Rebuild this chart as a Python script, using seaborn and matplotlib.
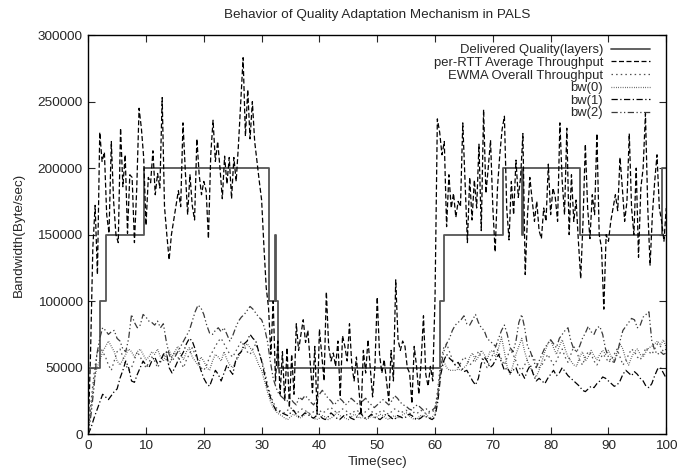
import numpy as np
import pandas as pd
import matplotlib
matplotlib.use("Agg")
import matplotlib.pyplot as plt
import seaborn as sns

# delivered quality: step changes (time, bandwidth level)
q_time = [0, 2.1, 3.0, 9.6, 31.2, 32.35, 32.5, 32.8, 60.8, 61.5, 71.7, 75.1, 75.3, 85.1, 99.3, 100]
q_level = [50000, 100000, 150000, 200000, 100000, 150000, 100000, 50000,
           100000, 150000, 200000, 150000, 200000, 150000, 200000, 200000]

# per-RTT average throughput (kB/s), one sample every 0.4 s
rtt_k = [
    0, 60, 140, 172, 120, 227, 205, 212, 165, 151, 220, 175, 150, 144, 230, 186, 210, 151, 195, 193, 144, 185, 245, 230, 208,
    157, 193, 189, 213, 180, 196, 185, 253, 171, 150, 131, 150, 161, 172, 183, 171, 234, 198, 165, 195, 172, 161, 222, 195, 180,
    190, 183, 147, 210, 236, 205, 220, 200, 177, 209, 188, 208, 177, 208, 190, 218, 250, 283, 224, 259, 222, 250, 220, 205, 190,
    176, 141, 110, 95, 60, 100, 40, 70, 30, 62, 25, 65, 20, 60, 30, 83, 63, 75, 86, 69, 78, 55, 31, 66, 15,
    79, 60, 40, 107, 66, 55, 61, 51, 70, 28, 74, 66, 55, 83, 52, 40, 58, 35, 15, 63, 46, 71, 50, 28, 51,
    103, 60, 46, 56, 40, 25, 63, 40, 116, 71, 63, 70, 66, 50, 46, 23, 66, 51, 30, 55, 89, 45, 36, 51, 40,
    103, 237, 227, 210, 220, 156, 195, 170, 181, 163, 175, 171, 234, 190, 144, 193, 161, 191, 170, 218, 153, 244, 181, 200, 221,
    170, 137, 185, 210, 229, 239, 170, 146, 190, 165, 206, 178, 193, 226, 120, 165, 193, 176, 160, 175, 153, 147, 170, 160, 203,
    165, 185, 178, 160, 234, 190, 165, 230, 150, 195, 160, 176, 145, 117, 160, 218, 170, 147, 180, 165, 226, 150, 140, 94, 150,
    145, 160, 170, 180, 168, 208, 185, 160, 175, 226, 170, 150, 200, 133, 185, 200, 241, 170, 127, 165, 190, 210, 170, 160, 145, 170,
]

# smoother series (kB/s), one sample every 0.5 s
ewma_k = [
    0, 25, 45, 60, 66, 62, 58, 52, 48, 55, 62, 64, 58, 52, 48, 50, 56, 62, 58, 54,
    50, 54, 58, 55, 50, 54, 60, 56, 52, 58, 62, 58, 54, 50, 56, 60, 65, 60, 55, 50,
    48, 52, 58, 62, 66, 70, 72, 68, 64, 60, 58, 62, 66, 70, 66, 62, 60, 64, 68, 62,
    56, 48, 38, 30, 24, 20, 18, 17, 16, 18, 20, 18, 16, 17, 19, 18, 16, 15, 17, 19,
    18, 16, 17, 19, 20, 18, 16, 17, 19, 18, 16, 15, 17, 18, 16, 15, 17, 19, 17, 16,
    15, 17, 18, 16, 15, 17, 19, 18, 16, 17, 18, 16, 15, 17, 16, 18, 17, 15, 16, 17,
    18, 35, 55, 65, 68, 62, 56, 52, 50, 54, 58, 56, 52, 54, 58, 62, 58, 54, 50, 55,
    60, 66, 62, 56, 52, 58, 64, 60, 55, 50, 48, 52, 56, 60, 58, 54, 50, 52, 56, 60,
    56, 52, 55, 60, 64, 58, 54, 60, 66, 62, 56, 52, 58, 62, 60, 55, 52, 56, 60, 58,
    54, 56, 60, 64, 58, 52, 55, 60, 64, 62, 58, 56, 60, 65, 62, 60, 64, 68, 66, 62, 64,
]
bw0_k = [
    0, 20, 40, 50, 55, 62, 66, 70, 66, 62, 55, 52, 56, 60, 64, 62, 58, 62, 64, 60,
    56, 58, 62, 60, 64, 58, 55, 60, 63, 58, 62, 66, 60, 56, 62, 65, 58, 55, 52, 58,
    55, 50, 48, 55, 60, 58, 55, 62, 56, 52, 50, 55, 58, 63, 66, 68, 65, 62, 58, 52,
    48, 40, 32, 25, 20, 17, 15, 14, 12, 11, 13, 15, 14, 12, 13, 15, 17, 14, 12, 11,
    12, 14, 13, 11, 12, 14, 16, 14, 13, 12, 11, 13, 15, 14, 12, 13, 11, 12, 14, 12,
    13, 15, 14, 12, 11, 13, 14, 12, 13, 15, 16, 14, 12, 11, 12, 14, 13, 15, 12, 13,
    15, 30, 50, 55, 50, 48, 48, 48, 49, 48, 50, 52, 58, 61, 55, 58, 63, 60, 56, 62,
    63, 58, 65, 73, 62, 50, 45, 52, 60, 66, 72, 62, 55, 50, 45, 43, 48, 55, 62, 68,
    71, 65, 60, 66, 71, 64, 58, 55, 52, 51, 58, 62, 55, 58, 63, 59, 56, 60, 63, 60,
    63, 58, 55, 62, 68, 64, 56, 52, 58, 62, 64, 60, 58, 62, 65, 66, 68, 70, 67, 71, 65,
]
bw1_k = [
    0, 5, 12, 18, 24, 30, 28, 26, 29, 32, 34, 42, 48, 55, 50, 40, 39, 45, 50, 55,
    52, 50, 55, 58, 53, 55, 60, 62, 50, 46, 50, 55, 58, 62, 68, 72, 70, 64, 55, 48,
    42, 38, 36, 42, 48, 45, 40, 46, 52, 48, 45, 55, 60, 62, 68, 70, 75, 72, 70, 62,
    55, 45, 35, 28, 22, 18, 17, 16, 15, 14, 16, 18, 15, 13, 14, 16, 15, 13, 12, 14,
    15, 12, 11, 13, 16, 14, 12, 11, 13, 15, 14, 12, 11, 13, 16, 14, 12, 13, 15, 13,
    12, 11, 13, 15, 14, 12, 11, 14, 13, 12, 13, 15, 14, 12, 11, 12, 14, 13, 12, 11,
    13, 25, 45, 55, 60, 57, 55, 52, 54, 50, 47, 48, 44, 40, 37, 42, 53, 58, 55, 50,
    52, 56, 60, 54, 48, 50, 46, 48, 50, 44, 46, 42, 48, 52, 45, 40, 42, 40, 38, 42,
    45, 48, 44, 46, 50, 47, 44, 42, 40, 38, 36, 33, 32, 34, 36, 35, 38, 40, 43, 42,
    40, 38, 36, 37, 40, 45, 48, 46, 44, 47, 45, 42, 40, 36, 35, 38, 44, 49, 50, 46, 42,
]
bw2_k = [
    0, 15, 35, 60, 72, 80, 78, 75, 77, 78, 72, 70, 64, 62, 72, 90, 84, 80, 82, 90,
    88, 85, 84, 82, 85, 80, 83, 70, 60, 55, 58, 62, 66, 70, 74, 78, 85, 92, 97, 95,
    90, 82, 76, 75, 78, 80, 77, 80, 75, 70, 74, 80, 85, 88, 90, 93, 96, 94, 91, 88,
    86, 80, 70, 55, 42, 35, 30, 28, 26, 25, 27, 24, 22, 28, 26, 29, 27, 24, 22, 26,
    30, 33, 30, 27, 25, 22, 24, 27, 25, 22, 24, 27, 25, 23, 22, 25, 27, 24, 22, 20,
    22, 24, 26, 24, 22, 25, 29, 27, 24, 22, 21, 19, 18, 21, 22, 20, 18, 19, 17, 18,
    20, 30, 50, 62, 68, 72, 78, 82, 84, 86, 89, 83, 82, 86, 90, 84, 80, 78, 72, 70,
    68, 66, 72, 78, 82, 75, 65, 62, 70, 84, 90, 80, 66, 62, 56, 50, 55, 60, 65, 68,
    71, 68, 65, 72, 75, 78, 80, 70, 64, 62, 66, 72, 76, 81, 77, 75, 80, 81, 75, 64,
    58, 55, 54, 60, 70, 78, 81, 84, 87, 86, 80, 82, 88, 90, 92, 70, 63, 60, 62, 60, 61,
]

t_rtt = np.linspace(0, 100, len(rtt_k))
t_bw = np.linspace(0, 100, len(bw0_k))
df_rtt = pd.DataFrame({"Time": t_rtt, "bw": np.array(rtt_k) * 1000})
df_q = pd.DataFrame({"Time": q_time, "bw": q_level})

sns.set_style("ticks")
plt.rcParams['font.family'] = ['Liberation Sans', 'DejaVu Sans']
plt.rcParams['font.size'] = 10

fig, ax = plt.subplots(figsize=(6.89, 4.74), dpi=100)
fig.subplots_adjust(left=0.128, right=0.967, top=0.926, bottom=0.084)

sns.lineplot(data=df_q, x="Time", y="bw", ax=ax, color="#555555", lw=1.3,
             drawstyle="steps-post", label="Delivered Quality(layers)")
sns.lineplot(data=df_rtt, x="Time", y="bw", ax=ax, color="black", lw=0.9,
             linestyle=(0, (4, 2)), label="per-RTT Average Throughput")

styles = [
    ("EWMA Overall Throughput", ewma_k, "#505050", (0, (1.2, 2.5))),
    ("bw(0)", bw0_k, "#404040", (0, (0.6, 1.2))),
    ("bw(1)", bw1_k, "black", (0, (5, 2, 1, 2))),
    ("bw(2)", bw2_k, "#3a3a3a", (0, (5, 2, 1, 2, 1, 2))),
]
for name, vals, col, ls in styles:
    d = pd.DataFrame({"Time": t_bw, "bw": np.array(vals) * 1000})
    sns.lineplot(data=d, x="Time", y="bw", ax=ax, color=col, lw=0.9,
                 linestyle=ls, label=name)

ax.set_xlim(0, 100)
ax.set_ylim(0, 300000)
ax.set_xticks(range(0, 101, 10))
ax.set_yticks(range(0, 300001, 50000))
ax.ticklabel_format(style="plain", axis="y")
ax.tick_params(direction="in", top=True, right=True, length=5, width=0.8, labelsize=9.7, pad=4)
for s in ax.spines.values():
    s.set_linewidth(1.0)
    s.set_color("black")

ax.set_xlabel("Time(sec)", fontsize=9.7, labelpad=3)
ax.set_ylabel("Bandwidth(Byte/sec)", fontsize=9.7, labelpad=9)
ax.set_title("Behavior of Quality Adaptation Mechanism in PALS", fontsize=9.7, pad=12)

ax.legend(loc="upper right", bbox_to_anchor=(0.988, 1.0), frameon=False,
          markerfirst=False, handlelength=3.0, fontsize=9.4, labelspacing=0.05,
          handletextpad=0.6, borderaxespad=0.2, borderpad=0.5, handleheight=0.6)

plt.savefig("out.png", dpi=100)
